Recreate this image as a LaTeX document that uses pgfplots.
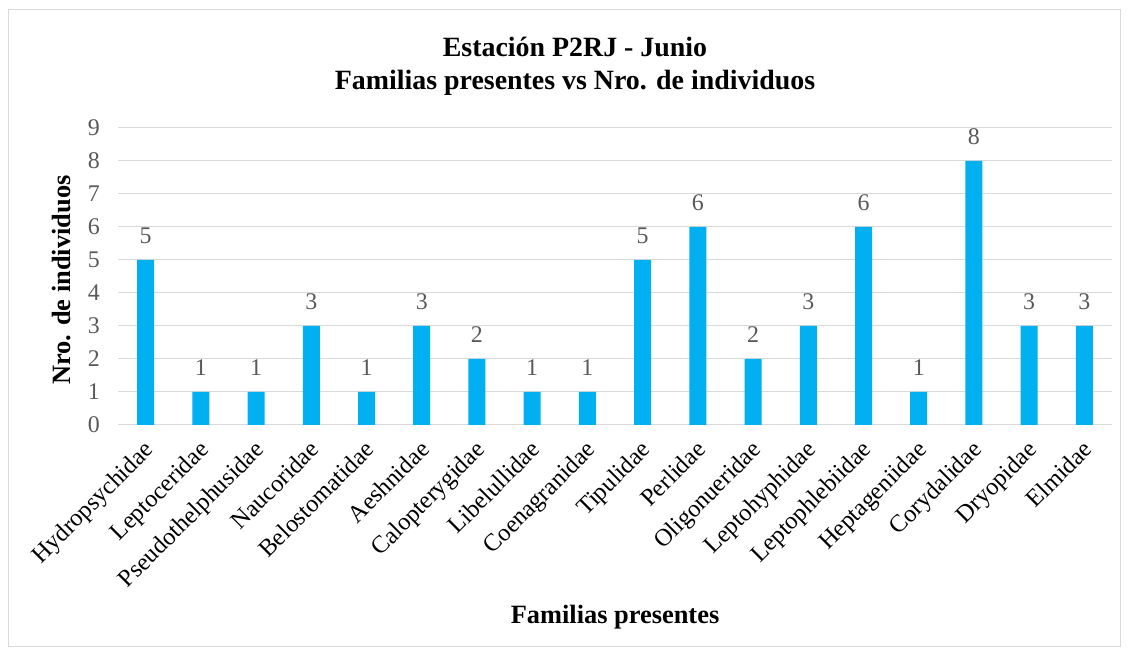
\documentclass[border=0pt]{standalone}
\usepackage{fontspec}
\setmainfont{Liberation Serif}[BoldFont={Liberation Serif Bold}]
\usepackage{pgfplots}
\pgfplotsset{compat=1.18}
\definecolor{barblue}{HTML}{00B0F0}
\definecolor{gridgray}{HTML}{D9D9D9}
\definecolor{ticktext}{HTML}{595959}
\begin{document}
\begin{tikzpicture}[x=1bp,y=1bp]
% page frame and chart border
\path (0,0) rectangle (1128,657);
\draw[gridgray, line width=1bp] (8,10) rectangle (1120,647);
% title
\node[anchor=base, font=\fontsize{28}{32}\selectfont\bfseries] at (575,600) {Estación P2RJ - Junio};
\node[anchor=base, font=\fontsize{28}{32}\selectfont\bfseries] at (575,567) {Familias presentes vs Nro. de individuos};
% axis titles
\node[rotate=90, font=\fontsize{26.5}{30}\selectfont\bfseries] at (62,377) {Nro. de individuos};
\node[font=\fontsize{26.5}{30}\selectfont\bfseries] at (615,40) {Familias presentes};
\begin{axis}[
  at={(118bp,232bp)}, anchor=south west,
  scale only axis, width=994bp, height=297bp,
  xmin=-0.5, xmax=17.5, ymin=0, ymax=9,
  xtick={0,...,17}, ytick={0,...,9},
  xticklabels={Hydropsychidae,Leptoceridae,Pseudothelphusidae,Naucoridae,Belostomatidae,Aeshnidae,Calopterygidae,Libelullidae,Coenagranidae,Tipulidae,Perlidae,Oligonueridae,Leptohyphidae,Leptophlebiidae,Heptageniidae,Corydalidae,Dryopidae,Elmidae},
  axis line style={draw=none},
  major tick length=0pt,
  ymajorgrids,
  grid style={gridgray, line width=1bp},
  /pgf/number format/assume math mode=true,
  yticklabel style={font=\fontsize{24}{28}\selectfont, text=ticktext, inner sep=0pt, xshift=-18bp},
  xticklabel style={xshift=-3bp, yshift=-14bp, rotate=45, anchor=north east, inner sep=0pt, font=\fontsize{24.5}{28}\selectfont, text=black},
  ybar, bar width=17bp,
  nodes near coords,
  nodes near coords style={font=\fontsize{24}{28}\selectfont, text=ticktext, inner sep=0pt, anchor=south, yshift=16bp},
]
\addplot[fill=barblue, draw=none] coordinates {
  (0,5) (1,1) (2,1) (3,3) (4,1) (5,3) (6,2) (7,1) (8,1)
  (9,5) (10,6) (11,2) (12,3) (13,6) (14,1) (15,8) (16,3) (17,3)
};
\end{axis}
\end{tikzpicture}
\end{document}
